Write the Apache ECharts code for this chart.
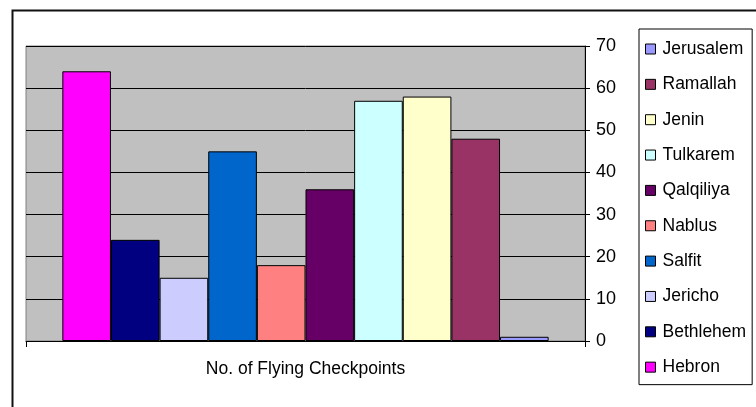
<!DOCTYPE html>
<html>
<head>
<meta charset="utf-8">
<script src="https://cdn.jsdelivr.net/npm/echarts@6/dist/echarts.min.js"></script>
<style>html,body{margin:0;padding:0;background:#fff}#c{width:756px;height:407px}</style>
</head>
<body>
<div id="c"></div>
<script>
const categories = ['No. of Flying Checkpoints'];
const seriesNames = ['Hebron','Bethlehem','Jericho','Salfit','Nablus','Qalqiliya','Tulkarem','Jenin','Ramallah','Jerusalem'];
const seriesValues = [64, 24, 15, 45, 18, 36, 57, 58, 48, 1];
const seriesColors = ['#FF00FF','#000080','#CCCCFF','#0066CC','#FF8080','#660066','#CCFFFF','#FFFFCC','#993366','#9999FF'];
const yTicks = [0, 10, 20, 30, 40, 50, 60, 70];

const chart = echarts.init(document.getElementById('c'), null, {renderer: 'canvas'});
const FONT = 'Liberation Sans, Arial, sans-serif';
chart.setOption({
  animation: false,
  textStyle: {fontFamily: FONT},
  graphic: [{
    type: 'rect', left: 10, top: 8, silent: true,
    shape: {x: 0, y: 0, width: 800, height: 500},
    style: {fill: 'none', stroke: '#111', lineWidth: 2}
  }],
  grid: {
    left: 26, top: 46, right: 171, bottom: 66,
    show: true, backgroundColor: '#C0C0C0', borderColor: '#808080', borderWidth: 1
  },
  legend: {
    orient: 'vertical',
    left: 639, top: 29,
    data: seriesNames.slice().reverse(),
    icon: 'rect',
    itemWidth: 10, itemHeight: 10,
    itemGap: 17.35,
    padding: [11, 6, 8.5, 6],
    borderColor: '#000', borderWidth: 1,
    backgroundColor: '#fff',
    itemStyle: {borderColor: '#000', borderWidth: 1},
    textStyle: {fontFamily: FONT, fontSize: 17.5, color: '#000', lineHeight: 17.5, padding: [0, 0, 0, 2]}
  },
  xAxis: {
    type: 'category',
    data: categories,
    axisLine: {lineStyle: {color: '#000', width: 1}},
    axisTick: {show: true, length: 6, lineStyle: {color: '#000'}},
    axisLabel: {fontFamily: FONT, fontSize: 17.5, color: '#000', margin: 19}
  },
  yAxis: {
    type: 'value',
    position: 'right',
    min: yTicks[0], max: yTicks[yTicks.length - 1], interval: 10,
    axisLine: {show: true, lineStyle: {color: '#000', width: 1}},
    axisTick: {show: true, length: 5, lineStyle: {color: '#000'}},
    axisLabel: {fontFamily: FONT, fontSize: 18, color: '#000', margin: 11},
    splitLine: {show: true, lineStyle: {color: '#000', width: 1}}
  },
  series: seriesNames.map((name, i) => ({
    name: name,
    type: 'bar',
    data: [seriesValues[i]],
    barGap: 0,
    barCategoryGap: '13%',
    itemStyle: {color: seriesColors[i], borderColor: '#000', borderWidth: 1}
  }))
});
</script>
</body>
</html>
